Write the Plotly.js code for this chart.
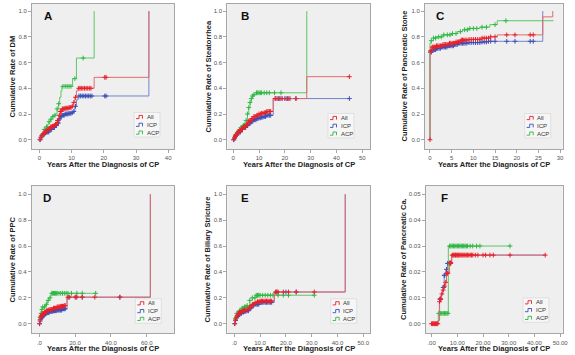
<!DOCTYPE html>
<html><head><meta charset="utf-8">
<script src="https://cdn.plot.ly/plotly-3.0.1.min.js"></script>
<style>html,body{margin:0;padding:0;background:#fff;}#chart{width:575px;height:355px;}</style>
</head><body><div id="chart"></div>
<script>
// ---------- DATA ----------
const seriesNames = ["All", "ICP", "ACP"];
const xTitle = "Years After the Diagnosis of CP";
const panelLetters = ["A","B","C","D","E","F"];
const yTitles = ["Cumulative Rate of DM","Cumulative Rate of Steatorrhea","Cumulative Rate of Pancreatic Stone",
                 "Cumulative Rate of PPC","Cumulative Rate of Biliary Stricture","Cumulative Rate of Pancreatic Ca."];

// tick labels
const A_xticks = [0,10,20,30,40];
const B_xticks = [0,10,20,30,40,50];
const C_xticks = [0,5,10,15,20,25,30];
const D_xticks = [0,20,40,60];           const D_xtext = [".0","20.0","40.0","60.0"];
const E_xticks = [0,10,20,30,40,50];     const E_xtext = [".0","10.0","20.0","30.0","40.0","50.0"];
const F_xticks = [0,10,20,30,40,50];     const F_xtext = [".00","10.00","20.00","30.00","40.00","50.00"];
const rate_yticks = [0,0.2,0.4,0.6,0.8,1.0];
const rate_ytext = ["0.0","0.2","0.4","0.6","0.8","1.0"];
const F_yticks = [0,0.01,0.02,0.03,0.04,0.05];
const F_ytext = ["0.00","0.01","0.02","0.03","0.04","0.05"];

// Panel A: DM
const A_all_t = [0,0.3,0.7,1,1.5,2,2.5,3,3.5,4,4.5,5,5.5,6,6.5,7,8,9,10,10.5,11,11.5,12,17,34];
const A_all_v = [0,0.02,0.035,0.045,0.06,0.07,0.08,0.09,0.1,0.105,0.11,0.12,0.15,0.19,0.22,0.24,0.245,0.25,0.26,0.29,0.33,0.38,0.40,0.485,1.0];
const A_icp_t = [0,0.3,0.7,1,1.5,2,3,4,5,5.5,6,6.5,7,8,9,10,10.5,11,11.5,12,34];
const A_icp_v = [0,0.015,0.03,0.04,0.05,0.06,0.08,0.095,0.11,0.13,0.16,0.18,0.19,0.2,0.205,0.21,0.22,0.26,0.31,0.34,1.0];
const A_acp_t = [0,0.5,1,1.5,2,2.5,3,3.5,4,4.5,5,5.5,6,6.3,6.7,7,10.3,11.5,17];
const A_acp_v = [0,0.03,0.06,0.08,0.1,0.12,0.14,0.16,0.18,0.19,0.2,0.24,0.28,0.33,0.38,0.415,0.475,0.635,1.0];
const A_early_cens = [0.2,0.5,0.8,1.1,1.4,1.7,2.0,2.3,2.6,2.9,3.2,3.5,3.8,4.1,4.4,4.7,5.0,5.3,5.6,5.9,6.2,6.5,6.8,7.1,7.4,7.7,8.0,8.3,8.6,8.9,9.2,9.5,9.8,10.2,10.7,11.2];
const A_all_cens = [12.2,12.6,13.0,13.5,14.0,14.5,15.0,15.5,16.0,20.3,20.7];
const A_icp_cens = [12.3,12.8,13.3,13.8,14.3,14.8,15.3,15.8,16.3,20.3,20.7];
const A_acp_cens = [0.8,1.5,2.2,3.0,3.6,4.2,4.8,5.5,6.0,7.3,8.0,8.6,9.2,9.8,11.0,13.6];

// Panel B: Steatorrhea
const B_all_t = [0,0.3,0.7,1,1.5,2,3,4,5,6,7,8,9,10,11,12,13,15.5,28.5,45];
const B_all_v = [0,0.015,0.03,0.04,0.055,0.065,0.085,0.1,0.12,0.145,0.165,0.18,0.19,0.2,0.205,0.21,0.22,0.32,0.49,0.49];
const B_icp_t = [0,0.3,0.7,1,1.5,2,3,4,5,6,7,8,9,10,11,12,13,15.5,45];
const B_icp_v = [0,0.012,0.025,0.035,0.05,0.06,0.08,0.095,0.11,0.13,0.145,0.155,0.165,0.17,0.175,0.18,0.19,0.32,0.32];
const B_acp_t = [0,0.5,1,1.5,2,2.5,3,3.5,4,4.5,5,5.5,6,6.5,7,7.5,8,9,28.5];
const B_acp_v = [0,0.02,0.035,0.05,0.065,0.08,0.095,0.1,0.11,0.12,0.15,0.2,0.25,0.29,0.32,0.34,0.35,0.365,1.0];
const B_early_cens = [0.2,0.5,0.8,1.1,1.4,1.7,2.0,2.4,2.8,3.2,3.6,4.0,4.4,4.8,5.2,5.6,6.0,6.4,6.8,7.2,7.6,8.0,8.4,8.8,9.2,9.6,10.0,10.5,11.0,11.5,12.0,12.5,13.0,13.5,14.0,14.5];
const B_all_cens = [16.2,17.0,18.0,19.0,20.5,21.5,24.3,45];
const B_icp_cens = [16.5,17.5,18.5,20.0,21.0,22.0,24.3,45];
const B_acp_cens = [1,1.5,2,2.5,3,3.5,4,4.5,5,5.5,6,6.5,7,7.5,8,9,9.5,10,10.5,11,12,13,14,16,18.5];

// Panel C: Pancreatic stone
const C_all_t = [0,0.01,0.5,1.5,3,4.5,6,7,9,12,14,15.5,26,28.3];
const C_all_v = [0,0.69,0.72,0.73,0.74,0.75,0.76,0.775,0.78,0.79,0.80,0.815,0.955,1.0];
const C_icp_t = [0,0.01,0.5,1.5,2.5,4,5.5,6.5,9,12,13.5,26];
const C_icp_v = [0,0.68,0.70,0.71,0.72,0.73,0.74,0.75,0.755,0.76,0.765,1.0];
const C_acp_t = [0,0.01,0.3,0.8,1.5,3,5,6.3,7.5,9,11.5,13.8,15.5,28.5];
const C_acp_v = [0,0.75,0.77,0.79,0.80,0.815,0.825,0.84,0.855,0.865,0.875,0.895,0.925,0.925];
const C_early_cens = [0.1,0.3,0.5,0.7,0.9,1.1,1.3,1.5,1.8,2.1,2.4,2.7,3.0,3.3,3.6,3.9,4.2,4.5,4.8,5.1,5.4,5.7,6.0,6.3,6.6,6.9,7.2,7.5,7.8,8.1,8.5,9.0,9.5,10.0,10.5,11.0,11.5,12.0,12.5,13.0,13.5,14.0,15.0];
const C_all_cens = [0,17.7,19.6,23.1,23.8];
const C_icp_cens = [17.7,19.6,23.1,23.8];
const C_acp_cens = [0.3,0.8,1.3,2,2.6,3.2,4,4.6,5.2,6,7,8,8.6,9.2,10,10.8,12,13,15,17.5];

// Panel D: PPC
const D_all_t = [0,0.3,0.7,1,1.5,2,3,4,5,6,8,10,12,14,15.5,62];
const D_all_v = [0,0.03,0.05,0.06,0.07,0.08,0.09,0.1,0.105,0.11,0.12,0.13,0.135,0.14,0.205,1.0];
const D_icp_t = [0,0.3,0.7,1,1.5,2,3,4,6,8,10,13,15.5,62];
const D_icp_v = [0,0.02,0.035,0.045,0.055,0.065,0.075,0.085,0.095,0.1,0.105,0.115,0.205,1.0];
const D_acp_t = [0,0.3,0.7,1.3,2,3.5,4.5,5.3,6.5,31.5];
const D_acp_v = [0,0.05,0.08,0.11,0.13,0.15,0.18,0.2,0.235,0.235];
const D_early_cens = [0.2,0.5,0.8,1.1,1.4,1.7,2.0,2.4,2.8,3.2,3.6,4.0,4.5,5.0,5.5,6.0,6.5,7.0,7.5,8.0,8.5,9.0,9.5,10.0,10.5,11.0,11.5,12.0,12.5,13.0,13.5,14.0,14.5];
const D_all_cens = [16,17,20,21,24,31,45];
const D_icp_cens = [16.5,20.5,24,45];
const D_acp_cens = [0.5,1,1.5,2,3,4,5,6,7,7.5,8,8.5,9,9.5,10,11,12,13,14,15,16,18,21,24,31.5];

// Panel E: Biliary stricture
const E_all_t = [0,0.3,0.7,1,1.5,2,3,4,5,6,7,8,9,10,15.5,43];
const E_all_v = [0,0.03,0.05,0.065,0.08,0.09,0.1,0.105,0.11,0.13,0.15,0.16,0.17,0.175,0.245,1.0];
const E_icp_t = [0,0.3,0.7,1,1.5,2,3,4,5,6,7,8,10,15.5,43];
const E_icp_v = [0,0.025,0.045,0.055,0.07,0.08,0.09,0.095,0.1,0.12,0.14,0.15,0.165,0.245,1.0];
const E_acp_t = [0,0.3,0.7,1,2,3,4,5,6,7,8.5,31];
const E_acp_v = [0,0.04,0.07,0.08,0.1,0.12,0.13,0.14,0.18,0.2,0.22,0.22];
const E_early_cens = [0.2,0.5,0.8,1.1,1.4,1.7,2.0,2.4,2.8,3.2,3.6,4.0,4.5,5.0,5.5,6.0,6.5,7.0,7.5,8.0,8.5,9.0,9.5,10.0,10.5,11.0,11.5,12.0,12.5,13.0,13.5,14.0,14.5];
const E_all_cens = [16,16.5,17,19,21,24,31];
const E_icp_cens = [16.5,20,24];
const E_acp_cens = [0.5,1,1.5,2,2.5,3,3.5,4,4.5,5,6,7,8,8.5,9,9.5,10,11,12,13,14,15,17,19,21,31];

// Panel F: Pancreatic cancer
const F_all_t = [0,2.6,3.0,3.3,3.8,4.3,4.8,5.3,5.8,7.0,7.8,44.2];
const F_all_v = [0,0.0013,0.0085,0.0095,0.0115,0.013,0.0145,0.016,0.0195,0.0235,0.0265,0.0265];
const F_icp_t = [0,2.6,3.1,3.6,4.1,4.5,4.9,5.5,6.2,7.8,44.2];
const F_icp_v = [0,0.0013,0.0095,0.011,0.0125,0.014,0.0187,0.021,0.0233,0.0265,0.0265];
const F_acp_t = [0,2.6,6.5,30.5];
const F_acp_v = [0,0.004,0.03,0.03];
const F_early_cens = [];
const F_all_cens = [0,0.3,0.6,0.9,1.2,1.5,1.8,2.1,2.4,3.1,3.4,3.6,4.0,4.5,5.0,5.5,5.9,6.1,6.3,7.1,7.3,7.5,8,8.3,8.6,9,9.3,9.6,10,10.3,10.6,11,11.4,11.8,12.2,12.6,13,13.5,14,14.5,15,15.5,16,17,18,20,21,22.7,24,30.5,44.2];
const F_icp_cens = [3.2,3.4,4.5,4.7,4.9,5.1,5.8,6.2,6.5,6.8,7.1,7.4];
const F_acp_cens = [2.8,3.2,3.6,4,4.5,5,5.5,6,6.4,7,7.5,8,8.5,9,9.5,10,10.5,11,11.5,12,12.5,13,13.5,14,15,16,17.5,18.8,30.5];

// ---------- LAYOUT CONFIG ----------
const W = 575, H = 355;
const px = x => x / W, py = y => 1 - y / H;
const lineColors = {All: "#e46a6a", ICP: "#7384cc", ACP: "#5cc865"};
const markColors = {All: "#e8202a", ICP: "#3b4fb8", ACP: "#2fb844"};

const panels = [
  {box:[32,4,174,149],   xr:[-2.3,41.8], yr:[-0.072,1.055], xv:A_xticks, xt:A_xticks.map(String), yv:rate_yticks, yt:rate_ytext,
   s:{All:[A_all_t,A_all_v,A_early_cens.concat(A_all_cens)], ICP:[A_icp_t,A_icp_v,A_early_cens.concat(A_icp_cens)], ACP:[A_acp_t,A_acp_v,A_acp_cens]},
   letterDx:10, leg:[136,117]},
  {box:[227.3,4,370,149], xr:[-2.3,53.0], yr:[-0.072,1.055], xv:B_xticks, xt:B_xticks.map(String), yv:rate_yticks, yt:rate_ytext,
   s:{All:[B_all_t,B_all_v,B_early_cens.concat(B_all_cens)], ICP:[B_icp_t,B_icp_v,B_early_cens.concat(B_icp_cens)], ACP:[B_acp_t,B_acp_v,B_acp_cens]},
   letterDx:12, leg:[330,118]},
  {box:[425,4,562.7,149], xr:[-1.15,30.6], yr:[-0.072,1.055], xv:C_xticks, xt:C_xticks.map(String), yv:rate_yticks, yt:rate_ytext,
   s:{All:[C_all_t,C_all_v,C_early_cens.concat(C_all_cens)], ICP:[C_icp_t,C_icp_v,C_early_cens.concat(C_icp_cens)], ACP:[C_acp_t,C_acp_v,C_acp_cens]},
   letterDx:9, leg:[526.7,118]},
  {box:[31.7,185.7,174,333.3], xr:[-4.2,75.2], yr:[-0.074,1.066], xv:D_xticks, xt:D_xtext, yv:rate_yticks, yt:rate_ytext,
   s:{All:[D_all_t,D_all_v,D_early_cens.concat(D_all_cens)], ICP:[D_icp_t,D_icp_v,D_early_cens.concat(D_icp_cens)], ACP:[D_acp_t,D_acp_v,D_acp_cens]},
   letterDx:9, leg:[137.3,303.3]},
  {box:[227.3,185.7,370,333.3], xr:[-2.7,52.6], yr:[-0.074,1.066], xv:E_xticks, xt:E_xtext, yv:rate_yticks, yt:rate_ytext,
   s:{All:[E_all_t,E_all_v,E_early_cens.concat(E_all_cens)], ICP:[E_icp_t,E_icp_v,E_early_cens.concat(E_icp_cens)], ACP:[E_acp_t,E_acp_v,E_acp_cens]},
   letterDx:12, leg:[332.7,303.3]},
  {box:[425.7,185.7,562.7,333.3], xr:[-2.3,51.0], yr:[-0.0037,0.0533], xv:F_xticks, xt:F_xtext, yv:F_yticks, yt:F_ytext,
   s:{All:[F_all_t,F_all_v,F_early_cens.concat(F_all_cens)], ICP:[F_icp_t,F_icp_v,F_icp_cens], ACP:[F_acp_t,F_acp_v,F_acp_cens]},
   letterDx:13.6, leg:[525,302.3]}
];

function stepAt(t, ts, vs) {
  let v = vs[0];
  for (let i = 0; i < ts.length; i++) { if (ts[i] <= t) v = vs[i]; }
  return v;
}

const traces = [];
const layout = {
  width: W, height: H, margin: {l:0, r:0, t:0, b:0},
  paper_bgcolor: "#ffffff", plot_bgcolor: "#efefef",
  showlegend: false,
  font: {family: "Liberation Sans, Arial, sans-serif", size: 6, color: "#555"},
  annotations: [], shapes: []
};

const drawOrder = ["ICP", "ACP", "All"];
panels.forEach((p, i) => {
  const n = i === 0 ? "" : String(i + 1);
  const xa = "x" + n, ya = "y" + n;
  const [x0, y0, x1, y1] = p.box;
  const axCommon = {
    showgrid:false, zeroline:false, showline:true, mirror:true, linecolor:"#a6a6a6", linewidth:1,
    ticks:"outside", ticklen:3, tickcolor:"#a6a6a6", tickwidth:1, tickmode:"array",
    tickfont:{size:6, color:"#555", family:"Liberation Sans, Arial, sans-serif"}, fixedrange:true
  };
  layout["xaxis" + n] = Object.assign({}, axCommon, {
    domain:[px(x0), px(x1)], range:p.xr, anchor:ya, tickvals:p.xv, ticktext:p.xt});
  layout["yaxis" + n] = Object.assign({}, axCommon, {
    domain:[py(y1), py(y0)], range:p.yr, anchor:xa, tickvals:p.yv, ticktext:p.yt});

  drawOrder.forEach(name => {
    const [ts, vs, cens] = p.s[name];
    traces.push({type:"scatter", mode:"lines", x:ts, y:vs, xaxis:xa, yaxis:ya, name:name,
      line:{shape:"hv", color:lineColors[name], width:1}, hoverinfo:"skip"});
    traces.push({type:"scatter", mode:"markers", x:cens, y:cens.map(t => stepAt(t, ts, vs)),
      xaxis:xa, yaxis:ya, name:name,
      marker:{symbol:"cross-thin", size:3.4, line:{width:1, color:markColors[name]}}, hoverinfo:"skip"});
  });

  // panel letter
  layout.annotations.push({xref:"paper", yref:"paper", x:px(x0 + p.letterDx), y:py(y0 + 12),
    xanchor:"left", yanchor:"middle", showarrow:false, text:"<b>" + panelLetters[i] + "</b>",
    font:{size:11.5, color:"#111", family:"Liberation Sans, Arial, sans-serif"}});
  // x title
  layout.annotations.push({xref:"paper", yref:"paper", x:px((x0 + x1) / 2), y:py(y1 + 15),
    xanchor:"center", yanchor:"middle", showarrow:false, text:"<b>" + xTitle + "</b>",
    font:{size:7.5, color:"#222", family:"Liberation Sans, Arial, sans-serif"}});
  // y title
  const ytx = [12, 208, 404, 12, 207, 403.5][i];
  layout.annotations.push({xref:"paper", yref:"paper", x:px(ytx), y:py((y0 + y1) / 2),
    xanchor:"center", yanchor:"middle", showarrow:false, textangle:-90, text:"<b>" + yTitles[i] + "</b>",
    font:{size:7.5, color:"#222", family:"Liberation Sans, Arial, sans-serif"}});

  // legend (drawn box)
  const [lx, ly] = p.leg;
  layout.shapes.push({type:"rect", xref:"paper", yref:"paper", x0:px(lx - 2), x1:px(lx + 24), y0:py(ly - 4.5), y1:py(ly + 20),
    line:{color:"#d4d4d4", width:0.6}, fillcolor:"#f6f6f6", layer:"above"});
  seriesNames.forEach((name, k) => {
    const cy = ly + k * 7.8;
    const path = "M " + px(lx) + " " + py(cy + 1.6) + " L " + px(lx + 3) + " " + py(cy + 1.6) +
                 " L " + px(lx + 3) + " " + py(cy - 1.6) + " L " + px(lx + 6.5) + " " + py(cy - 1.6) +
                 " L " + px(lx + 6.5) + " " + py(cy + 1.6);
    layout.shapes.push({type:"path", xref:"paper", yref:"paper", path:path,
      line:{color:markColors[name], width:0.9}, layer:"above"});
    layout.annotations.push({xref:"paper", yref:"paper", x:px(lx + 8.5), y:py(cy), xanchor:"left", yanchor:"middle",
      showarrow:false, text:name, font:{size:6, color:"#333", family:"Liberation Sans, Arial, sans-serif"}});
  });
});

Plotly.newPlot("chart", traces, layout, {staticPlot:true, displayModeBar:false});
</script>
</body></html>
